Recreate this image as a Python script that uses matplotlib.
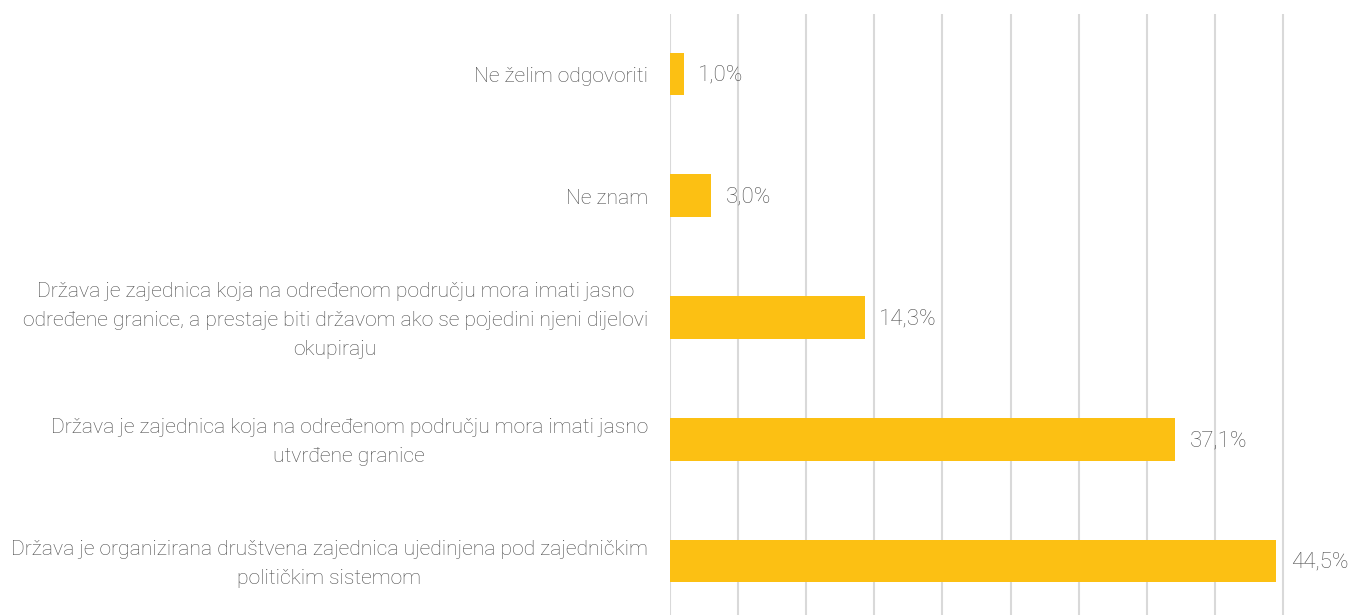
import matplotlib.pyplot as plt

categories = [
    "Država je organizirana društvena zajednica ujedinjena pod zajedničkim\npolitičkim sistemom",
    "Država je zajednica koja na određenom području mora imati jasno\nutvrđene granice",
    "Država je zajednica koja na određenom području mora imati jasno\nodređene granice, a prestaje biti državom ako se pojedini njeni dijelovi\nokupiraju",
    "Ne znam",
    "Ne želim odgovoriti",
]
values = [44.5, 37.1, 14.3, 3.0, 1.0]
value_labels = ["44,5%", "37,1%", "14,3%", "3,0%", "1,0%"]
grid_ticks = [0, 5, 10, 15, 20, 25, 30, 35, 40, 45]

bar_color = "#FCC013"
grid_color = "#D9D9D9"
text_color = "#4D4D4D"

plt.rcParams["font.family"] = ["Roboto", "DejaVu Sans"]
plt.rcParams["font.weight"] = "light"

W, H = 1349, 615
fig = plt.figure(figsize=(W / 100, H / 100), dpi=100)
ax = fig.add_axes([670 / W, 0, (W - 670) / W, 1 - 14 / H])

y = list(range(len(categories)))
ax.barh(y, values, height=0.35, color=bar_color, zorder=3)

for yi, v, lab in zip(y, values, value_labels):
    ax.annotate(lab, (v, yi), xytext=(10.5, -1), textcoords="offset points",
                va="center", ha="left", fontsize=16, color=text_color)

# category labels, centred lines, right edge just left of the axis
for yi, cat in zip(y, categories):
    ax.annotate(cat, (0, yi), xycoords=("axes fraction", "data"),
                xytext=(-16, -2), textcoords="offset points",
                va="center", ha="right", multialignment="center",
                linespacing=1.65, fontsize=15.2, color=text_color,
                annotation_clip=False)

ax.set_xlim(0, 49.85)
ax.set_ylim(-0.444, 4.493)
ax.set_xticks(grid_ticks)
ax.set_xticklabels([])
ax.set_yticks([])
ax.tick_params(axis="x", length=0)
ax.grid(axis="x", color=grid_color, linewidth=1.5, zorder=0)

for s in ax.spines.values():
    s.set_visible(False)

fig.savefig("out.png", dpi=100)
